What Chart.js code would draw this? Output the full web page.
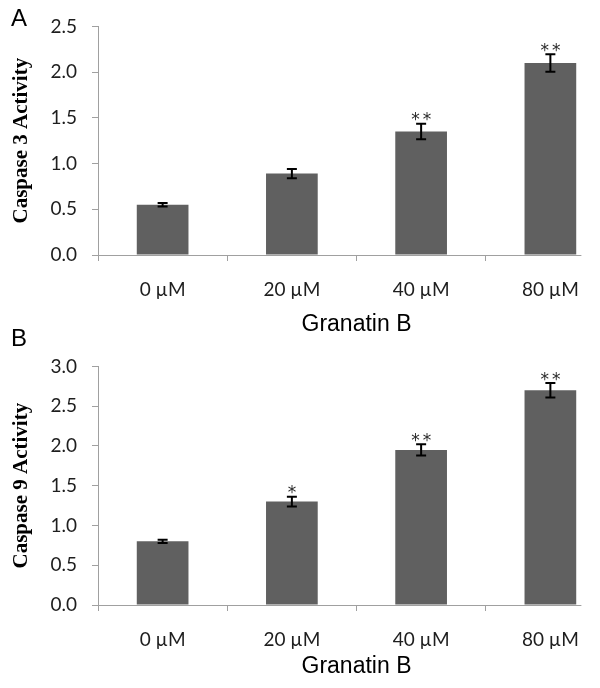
<!DOCTYPE html>
<html><head><meta charset="utf-8">
<script src="https://cdn.jsdelivr.net/npm/chart.js@4.4.1/dist/chart.umd.min.js"></script>
<style>
html,body{margin:0;padding:0;background:#fff;}
#wrap{position:relative;width:600px;height:688px;overflow:hidden;background:#fff;}
canvas{position:absolute;left:0;}
.panel{position:absolute;left:11px;font-family:"Liberation Sans",Arial,sans-serif;font-size:24px;line-height:1;color:#000;}
</style></head><body>
<div id="wrap">
<canvas id="cA" width="620" height="340" style="top:0"></canvas>
<canvas id="cB" width="620" height="348" style="top:340px"></canvas>
<div class="panel" style="top:6px">A</div>
<div class="panel" style="top:326px">B</div>
</div>
<script>
// ---- data ----
const categories = ['0 \u00B5M', '20 \u00B5M', '40 \u00B5M', '80 \u00B5M'];
const caspase3 = [0.55, 0.89, 1.35, 2.10];
const caspase3Err = [0.02, 0.05, 0.085, 0.095];
const caspase3Sig = ['', '', '**', '**'];
const caspase9 = [0.80, 1.30, 1.95, 2.70];
const caspase9Err = [0.02, 0.06, 0.07, 0.09];
const caspase9Sig = ['', '*', '**', '**'];
const xTitle = 'Granatin B';
const yTitleA = 'Caspase 3 Activity';
const yTitleB = 'Caspase 9 Activity';
const yMaxA = 2.5;
const yMaxB = 3.0;
const yStep = 0.5;

// ---- styles ----
const axisColor = '#a0a0a0';
const barColor = '#606060';
const textColor = '#1e1e1e';

const errorBarPlugin = {
  id: 'errorBars',
  afterDatasetsDraw(chart, args, opts) {
    const ctx = chart.ctx;
    const meta = chart.getDatasetMeta(0);
    const y = chart.scales.y;
    const vals = chart.data.datasets[0].data;
    ctx.save();
    ctx.strokeStyle = '#000';
    ctx.lineWidth = 2;
    meta.data.forEach((bar, i) => {
      const top = y.getPixelForValue(vals[i] + opts.err[i]);
      const bot = y.getPixelForValue(vals[i] - opts.err[i]);
      ctx.beginPath();
      ctx.moveTo(bar.x, top); ctx.lineTo(bar.x, bot);
      ctx.moveTo(bar.x - opts.cap, top); ctx.lineTo(bar.x + opts.cap, top);
      ctx.moveTo(bar.x - opts.cap, bot); ctx.lineTo(bar.x + opts.cap, bot);
      ctx.stroke();
      const s = opts.sig[i];
      if (s) {
        ctx.font = opts.sigFont;
        ctx.fillStyle = '#2a2a2a';
        ctx.textAlign = 'center';
        ctx.textBaseline = 'alphabetic';
        const m = ctx.measureText('*');
        const off = (m.actualBoundingBoxAscent - m.actualBoundingBoxDescent) / 2;
        const cy = top - opts.sigGap + off;
        for (let k = 0; k < s.length; k++) {
          ctx.fillText('*', bar.x + (k - (s.length - 1) / 2) * opts.sigSpacing, cy);
        }
      }
    });
    ctx.restore();
  }
};

// x axis line that stops short of the right edge (as in the original figure)
const axisLinePlugin = {
  id: 'axisLine',
  afterDraw(chart, args, opts) {
    const a = chart.chartArea;
    const ctx = chart.ctx;
    ctx.save();
    ctx.strokeStyle = axisColor;
    ctx.lineWidth = 1;
    ctx.beginPath();
    ctx.moveTo(a.left, a.bottom + 0.5);
    ctx.lineTo(a.left + (a.right - a.left) * opts.frac, a.bottom + 0.5);
    ctx.stroke();
    ctx.restore();
  }
};

function makeChart(id, values, errs, sig, yMax, yTitle, topPad, xHeight, titlePadBottom) {
  return new Chart(document.getElementById(id), {
    type: 'bar',
    data: {
      labels: categories,
      datasets: [{
        data: values,
        backgroundColor: barColor,
        borderWidth: 0,
        categoryPercentage: 1,
        barPercentage: 0.4
      }]
    },
    plugins: [errorBarPlugin, axisLinePlugin],
    options: {
      responsive: false,
      maintainAspectRatio: false,
      animation: false,
      devicePixelRatio: 1,
      layout: { padding: { top: topPad, right: 5, left: 0, bottom: 0 } },
      plugins: {
        legend: { display: false },
        tooltip: { enabled: false },
        errorBars: { err: errs, sig: sig, cap: 5, sigGap: 7, sigSpacing: 11.5, sigFont: '17px "DejaVu Sans"' },
        axisLine: { frac: 0.935 }
      },
      scales: {
        x: {
          type: 'category',
          offset: true,
          grid: { display: true, offset: true, drawOnChartArea: false, drawTicks: true, tickLength: 6, color: axisColor, lineWidth: 1 },
          border: { display: false },
          ticks: { color: textColor, font: { family: 'Lato', size: 19 }, padding: 17, maxRotation: 0, autoSkip: false },
          title: { display: true, text: xTitle, color: '#000', font: { family: 'Liberation Sans', size: 23 }, padding: { top: 0, bottom: titlePadBottom } },
          afterFit(s) { s.height = xHeight; }
        },
        y: {
          min: 0,
          max: yMax,
          ticks: { stepSize: yStep, callback: v => Number(v).toFixed(1), color: textColor, font: { family: 'Lato', size: 19 }, padding: 15 },
          grid: { display: true, drawOnChartArea: false, drawTicks: true, tickLength: 6, color: axisColor, lineWidth: 1 },
          border: { display: true, color: axisColor, width: 1 },
          title: { display: true, text: yTitle, color: '#000', font: { family: 'Liberation Serif', size: 21, weight: 'bold' }, padding: { top: 9, bottom: 0 } },
          afterFit(s) { s.width = 98; }
        }
      }
    }
  });
}

function build() {
  makeChart('cA', caspase3, caspase3Err, caspase3Sig, yMaxA, yTitleA, 21, 85, 2);
  makeChart('cB', caspase9, caspase9Err, caspase9Sig, yMaxB, yTitleB, 14, 83, 8);
}
Promise.all([
  document.fonts.load('19px Lato'),
  document.fonts.load('23px "Liberation Sans"'),
  document.fonts.load('bold 21px "Liberation Serif"'),
  document.fonts.load('17px "DejaVu Sans"')
]).then(build, build);
</script>
</body></html>
